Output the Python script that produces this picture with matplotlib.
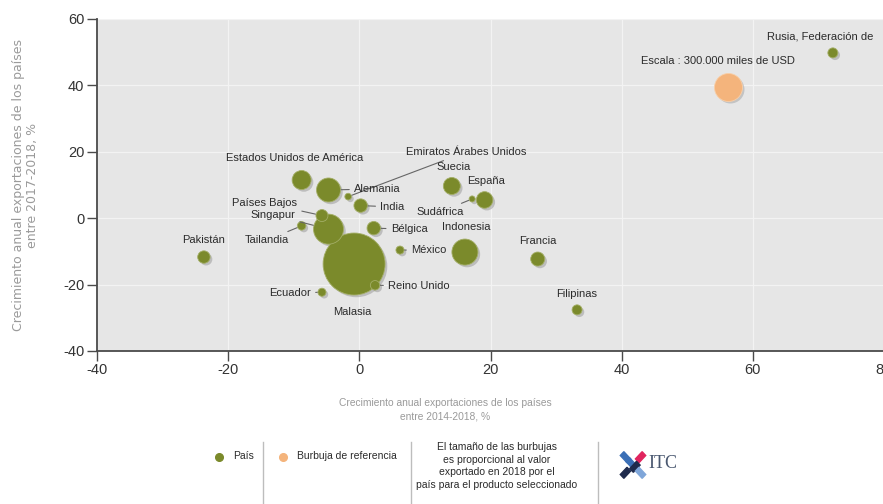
import numpy as np
import matplotlib
matplotlib.use("Agg")
import matplotlib.pyplot as plt
from matplotlib import transforms
from matplotlib.patches import Rectangle

plt.rcParams['font.family'] = ['Liberation Sans', 'DejaVu Sans']

# Exporting countries: growth 2014-2018 (x), growth 2017-2018 (y), value 2018 (thousand USD)
countries = ["Malasia", "Singapur", "Indonesia", "Alemania", "Estados Unidos de América",
             "Suecia", "España", "Francia", "India", "Bélgica", "Pakistán",
             "Países Bajos", "Filipinas", "Rusia, Federación de", "Reino Unido",
             "Tailandia", "México", "Ecuador", "Emiratos Árabes Unidos", "Sudáfrica"]
growth_2014_2018 = [-0.8, -4.7, 16.1, -4.7, -8.8, 14.1, 19.1, 27.2, 0.2, 2.2, -23.7,
                    -5.7, 33.2, 72.2, 2.4, -8.8, 6.2, -5.7, -1.7, 17.2]
growth_2017_2018 = [-13.8, -3.3, -10.2, 8.5, 11.5, 9.7, 5.5, -12.3, 3.8, -3.0, -11.7,
                    0.8, -27.6, 49.8, -20.2, -2.3, -9.6, -22.3, 6.5, 5.8]
export_value = [1470000, 344000, 259000, 220000, 138000, 110000, 105000, 75000, 69000,
                69000, 59000, 55000, 38000, 38000, 34000, 28000, 25000, 25000, 17000, 14000]

# Reference bubble
ref_value = 300000
ref_pos = (56.2, 39.5)
ref_label = "Escala : 300.000 miles de USD"

x_ticks = [-40, -20, 0, 20, 40, 60, 80]
y_ticks = [-40, -20, 0, 20, 40, 60]

x_title = "Crecimiento anual exportaciones de los países\nentre 2014-2018, %"
y_title = "Crecimiento anual exportaciones de los países\nentre 2017-2018, %"

# label layout: text position, alignment, leader line
label_layout = {
    "Rusia, Federación de": (62.1, 54.6, "left", False),
    "Estados Unidos de América": (-9.8, 18.1, "center", False),
    "Emiratos Árabes Unidos": (7.1, 19.9, "left", True),
    "Suecia": (14.3, 15.4, "center", False),
    "España": (16.4, 11.2, "left", False),
    "Alemania": (-0.8, 8.8, "left", True),
    "India": (3.2, 3.4, "left", True),
    "Sudáfrica": (16.0, 1.9, "right", True),
    "Indonesia": (16.3, -2.6, "center", False),
    "Países Bajos": (-9.5, 4.6, "right", True),
    "Singapur": (-9.8, 1.0, "right", True),
    "Tailandia": (-10.7, -6.6, "right", True),
    "Pakistán": (-23.7, -6.6, "center", False),
    "Bélgica": (4.8, -3.3, "left", True),
    "México": (7.9, -9.6, "left", True),
    "Reino Unido": (4.4, -20.4, "left", True),
    "Ecuador": (-7.4, -22.5, "right", True),
    "Malasia": (-1.0, -28.3, "center", False),
    "Francia": (27.2, -6.9, "center", False),
    "Filipinas": (33.2, -22.8, "center", False),
}

OLIVE = "#7b8a2b"
PEACH = "#f4b47c"
BG = "#e6e6e6"
TXT = "#2b2b2b"
LABEL_SIZE = 8

W, H, DPI = 883, 504, 100
fig = plt.figure(figsize=(W / DPI, H / DPI), dpi=DPI)
fig.patch.set_facecolor("white")

ax_left, ax_right, ax_top, ax_bottom = 97, 884, 19, 351
ax = fig.add_axes([ax_left / W, 1 - ax_bottom / H, (ax_right - ax_left) / W, (ax_bottom - ax_top) / H])
ax.set_facecolor(BG)
ax.set_xlim(-40, 80)
ax.set_ylim(-40, 60)

ax.set_xticks(x_ticks)
ax.set_yticks(y_ticks)
ax.set_xticklabels([str(v) for v in x_ticks])
ax.set_yticklabels([str(v) for v in y_ticks])
ax.grid(True, color="#f3f3f3", linewidth=0.9, zorder=0)
ax.set_axisbelow(True)
for s in ["top", "right"]:
    ax.spines[s].set_visible(False)
for s in ["left", "bottom"]:
    ax.spines[s].set_color("#4a4a4a")
    ax.spines[s].set_linewidth(1.3)
ax.tick_params(axis="both", direction="out", length=7, width=1.0, color="#4a4a4a",
               labelsize=10.5, labelcolor="#333333", pad=2)

# bubble area: reference bubble has radius ~14 px
ref_radius_px = 14.0
k = (ref_radius_px * 2 * 72 / DPI) ** 2 / ref_value
sizes = np.array(export_value) * k

shadow = transforms.offset_copy(ax.transData, fig=fig, x=1.6, y=-1.6, units="points")
order = np.argsort(sizes)[::-1]
xs = np.array(growth_2014_2018)[order]
ys = np.array(growth_2017_2018)[order]
ss = sizes[order]

ax.scatter(xs, ys, s=ss, color="#8c8c8c", alpha=0.45, linewidths=0, transform=shadow, zorder=2)
ax.scatter(xs, ys, s=ss, color=OLIVE, edgecolors="#a3ae66", linewidths=0.6, zorder=3)

ax.scatter([ref_pos[0]], [ref_pos[1]], s=[ref_value * k], color="#9a9a9a", alpha=0.45,
           linewidths=0, transform=shadow, zorder=2)
ax.scatter([ref_pos[0]], [ref_pos[1]], s=[ref_value * k], color=PEACH,
           edgecolors="#f8cfa8", linewidths=0.6, zorder=3)
ax.text(54.7, 47.3, ref_label, ha="center", va="center", fontsize=LABEL_SIZE, color=TXT, zorder=5)

idx = {c: i for i, c in enumerate(countries)}
for name, (tx, ty, ha, leader) in label_layout.items():
    i = idx[name]
    px, py = growth_2014_2018[i], growth_2017_2018[i]
    r_pt = np.sqrt(sizes[i]) / 2
    if leader:
        ax.annotate(name, xy=(px, py), xytext=(tx, ty), ha=ha, va="center", fontsize=LABEL_SIZE,
                    color=TXT, zorder=5, annotation_clip=False,
                    arrowprops=dict(arrowstyle="-", color="#666666", lw=0.8,
                                    shrinkA=1.5, shrinkB=r_pt + 0.5))
    else:
        ax.text(tx, ty, name, ha=ha, va="center", fontsize=LABEL_SIZE, color=TXT, zorder=5,
                clip_on=False)

# axis titles
fig.text(445 / W, 1 - 410 / H, x_title, ha="center", va="center", fontsize=7.4,
         color="#9a9a9a", linespacing=1.45)
fig.text(26 / W, 1 - 185 / H, y_title, ha="center", va="center", rotation=90, fontsize=9,
         color="#9a9a9a", family=["DejaVu Sans"], linespacing=1.1)

# legend strip
def fy(py):
    return 1 - py / H

for sx in [263, 411, 598]:
    fig.add_artist(plt.Line2D([sx / W, sx / W], [fy(442), fy(504)], color="#bdbdbd", lw=1.0))

fig.add_artist(plt.Line2D([219 / W], [fy(457)], marker="o", markersize=5.5, color=OLIVE, lw=0))
fig.text(233 / W, fy(456), "País", ha="left", va="center", fontsize=7.5, color=TXT)
fig.add_artist(plt.Line2D([283 / W], [fy(457)], marker="o", markersize=5.5, color=PEACH, lw=0))
fig.text(297 / W, fy(456), "Burbuja de referencia", ha="left", va="center", fontsize=7.5, color=TXT)
fig.text(497 / W, fy(466),
         "El tamaño de las burbujas\nes proporcional al valor\nexportado en 2018 por el\npaís para el producto seleccionado",
         ha="center", va="center", fontsize=7.5, color=TXT, linespacing=1.3)

# ITC logo
logo = fig.add_axes([619 / W, fy(480), 28 / W, 30 / H])
logo.set_xlim(0, 10)
logo.set_ylim(0, 10)
logo.axis("off")
strokes = [((2.3, 7.6), -45, "#3b6fb6"), ((7.7, 7.6), 45, "#e0245e"),
           ((4.3, 5.6), -45, "#3b6fb6"), ((5.7, 4.4), 45, "#1f2b4d"),
           ((2.3, 2.4), 45, "#1f2b4d"), ((7.7, 2.4), -45, "#7fa6d9")]
for (cx, cy), ang, col in strokes:
    rect = Rectangle((cx - 1.7, cy - 0.9), 3.4, 1.8, color=col)
    rect.set_transform(transforms.Affine2D().rotate_deg_around(cx, cy, ang) + logo.transData)
    logo.add_patch(rect)
fig.text(648 / W, fy(464), "ITC", ha="left", va="center", fontsize=13, color="#4a5870",
         family=["Liberation Serif", "DejaVu Serif"])

fig.savefig("out.png", dpi=DPI, facecolor="white")
